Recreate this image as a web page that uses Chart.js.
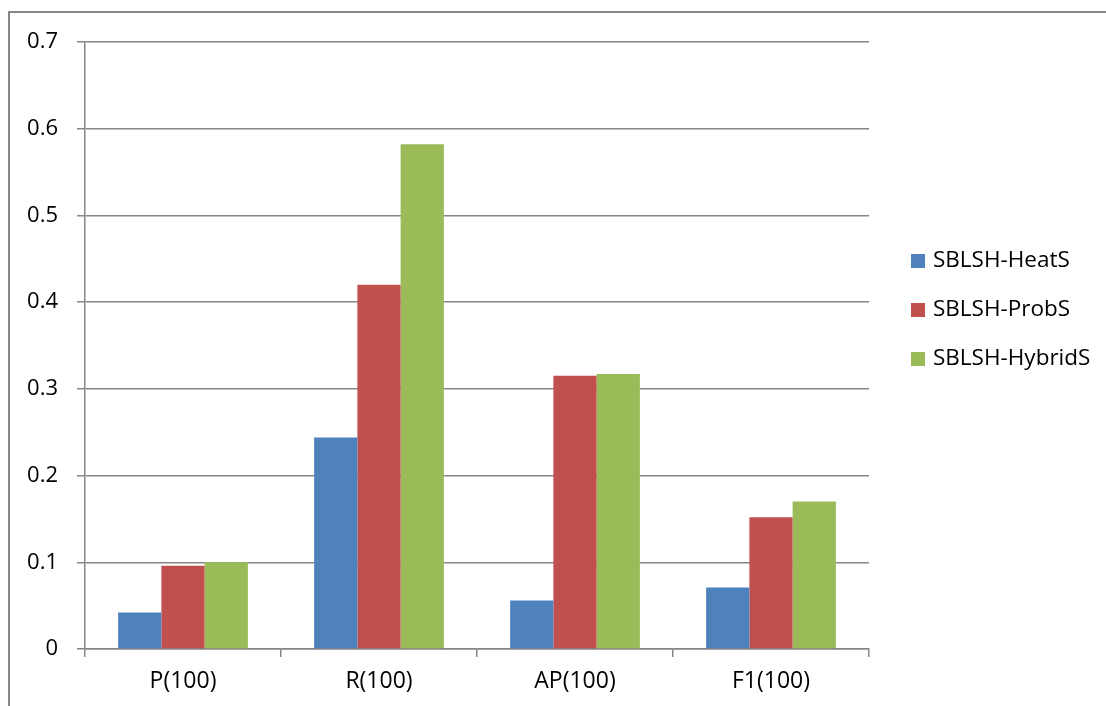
<!DOCTYPE html>
<html>
<head>
<meta charset="utf-8">
<script src="https://cdn.jsdelivr.net/npm/chart.js@4/dist/chart.umd.min.js"></script>
<style>
    body { margin: 0; background: #ffffff; }
    canvas { display: block; }
</style>
</head>
<body>
<canvas id="grafico" width="1106" height="706"></canvas>
<script>
// dados
const categorias = ["P(100)", "R(100)", "AP(100)", "F1(100)"];
const nomesSeries = ["SBLSH-HeatS", "SBLSH-ProbS", "SBLSH-HybridS"];
const valoresHeatS = [0.042, 0.244, 0.056, 0.071];
const valoresProbS = [0.096, 0.420, 0.315, 0.152];
const valoresHybridS = [0.100, 0.582, 0.317, 0.170];
const ticksY = [0, 0.1, 0.2, 0.3, 0.4, 0.5, 0.6, 0.7];

const cores = ["#4f81bd", "#c0504d", "#9bbb59"];
const corLinha = "#868686";
const fonte = "'Open Sans', 'Liberation Sans', sans-serif";

// moldura externa (como no Excel)
const moldura = {
    id: "moldura",
    afterDraw(chart) {
        const ctx = chart.ctx;
        ctx.save();
        ctx.strokeStyle = corLinha;
        ctx.lineWidth = 2;
        ctx.strokeRect(9, 12, 1200, 1200);
        ctx.restore();
    }
};

// legenda desenhada a mão para ficar na mesma posição da imagem
const legenda = {
    id: "legenda",
    afterDraw(chart) {
        const ctx = chart.ctx;
        ctx.save();
        ctx.font = "22.5px " + fonte;
        ctx.textBaseline = "middle";
        ctx.textAlign = "left";
        chart.data.datasets.forEach((ds, i) => {
            const y = 261 + i * 49;
            ctx.fillStyle = ds.backgroundColor;
            ctx.fillRect(911, y - 7, 14, 14);
            ctx.fillStyle = "#000000";
            ctx.fillText(ds.label, 933, y);
        });
        ctx.restore();
    }
};

const dados = {
    labels: categorias,
    datasets: [
        { label: nomesSeries[0], data: valoresHeatS, backgroundColor: cores[0] },
        { label: nomesSeries[1], data: valoresProbS, backgroundColor: cores[1] },
        { label: nomesSeries[2], data: valoresHybridS, backgroundColor: cores[2] }
    ]
};

const config = {
    type: "bar",
    data: dados,
    options: {
        responsive: false,
        animation: false,
        layout: {
            padding: { left: 0, top: 42, right: 237, bottom: 0 }
        },
        datasets: {
            bar: { categoryPercentage: 0.662, barPercentage: 1.0 }
        },
        plugins: {
            legend: { display: false },
            tooltip: { enabled: false }
        },
        scales: {
            x: {
                grid: {
                    offset: true,
                    drawOnChartArea: false,
                    drawTicks: true,
                    tickLength: 8,
                    color: corLinha,
                    lineWidth: 1.5
                },
                border: { display: true, color: corLinha, width: 1.5 },
                ticks: {
                    color: "#000000",
                    font: { family: fonte, size: 23 },
                    padding: 11
                },
                afterFit(scale) {
                    scale.height = 57;
                }
            },
            y: {
                min: 0,
                max: 0.7,
                afterBuildTicks(scale) {
                    scale.ticks = ticksY.map(v => ({ value: v }));
                },
                grid: {
                    color: corLinha,
                    lineWidth: 1.5,
                    drawTicks: true,
                    tickLength: 8
                },
                border: { display: true, color: corLinha, width: 1.5 },
                ticks: {
                    color: "#000000",
                    font: { family: fonte, size: 22 },
                    padding: 19,
                    callback: (v) => v === 0 ? "0" : Number(v).toFixed(1)
                },
                afterFit(scale) {
                    scale.width = 85;
                }
            }
        }
    },
    plugins: [moldura, legenda]
};

const grafico = new Chart(document.getElementById("grafico").getContext("2d"), config);
</script>
</body>
</html>
